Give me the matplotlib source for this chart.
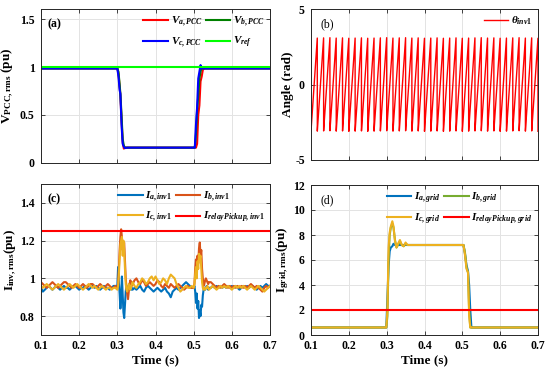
import numpy as np
import matplotlib
matplotlib.use("Agg")
import matplotlib.pyplot as plt
from matplotlib.ticker import FuncFormatter

plt.rcParams['font.family'] = ['Liberation Serif', 'DejaVu Serif']
plt.rcParams['font.weight'] = 'bold'
plt.rcParams['mathtext.fontset'] = 'custom'
plt.rcParams['mathtext.rm'] = 'Liberation Serif:bold'
plt.rcParams['mathtext.it'] = 'Liberation Serif:italic:bold'
plt.rcParams['mathtext.bf'] = 'Liberation Serif:bold'

# ---------------- (a) PCC voltages ----------------
t_a = [0.10, 0.300, 0.303, 0.306, 0.308, 0.311, 0.314, 0.317, 0.320, 0.325, 0.50,
       0.503, 0.506, 0.509, 0.512, 0.515, 0.518, 0.521, 0.524, 0.527, 0.53, 0.70]
v_a_pcc = [0.985, 0.985, 0.93, 0.80, 0.70, 0.45, 0.22, 0.15, 0.16, 0.16, 0.16,
           0.16, 0.16, 0.20, 0.50, 0.60, 0.85, 0.90, 0.97, 0.985, 0.985, 0.985]
v_b_pcc = [0.985, 0.985, 0.95, 0.82, 0.72, 0.50, 0.25, 0.18, 0.16, 0.16, 0.16,
           0.16, 0.30, 0.55, 0.70, 0.88, 0.95, 1.00, 0.985, 0.985, 0.985, 0.985]
v_c_pcc = [0.985, 0.985, 0.90, 0.76, 0.72, 0.40, 0.20, 0.17, 0.155, 0.16, 0.16,
           0.16, 0.40, 0.58, 0.88, 0.95, 1.02, 0.985, 0.985, 0.985, 0.985, 0.985]
v_ref = 1.0

# ---------------- (b) inverter angle ----------------
theta_peak = 3.1          # rad
grid_freq_hz = 60.0       # one tooth per grid cycle

# ---------------- (c) inverter currents ----------------
t_c = np.round(np.concatenate([
    np.arange(0.100, 0.2951, 0.005),
    np.arange(0.300, 0.3401, 0.002),
    np.arange(0.345, 0.4951, 0.005),
    np.arange(0.500, 0.5401, 0.002),
    np.arange(0.545, 0.7001, 0.005)]), 3)
i_a_inv = [
    0.95, 0.93, 0.94, 0.95, 0.96, 0.95, 0.94, 0.95, 0.96, 0.95,
    0.94, 0.95, 0.96, 0.95, 0.95, 0.94, 0.95, 0.96, 0.96, 0.95,
    0.94, 0.95, 0.95, 0.96, 0.95, 0.94, 0.95, 0.96, 0.95, 0.96,
    0.95, 0.94, 0.95, 0.96, 0.95, 0.95, 0.94, 0.95, 0.96, 0.96,
    0.96, 1.06, 0.98, 0.92, 0.84, 0.90, 1.01, 0.92, 0.82, 0.79,
    0.86, 0.93, 0.96, 0.95, 0.94, 0.96, 0.97, 0.95, 0.94, 0.95, 0.94,
    0.95, 0.94, 0.95, 0.96, 0.94, 0.93, 0.95, 0.96, 0.95, 0.94,
    0.93, 0.94, 0.95, 0.94, 0.93, 0.94, 0.95, 0.93, 0.92, 0.90,
    0.93, 0.94, 0.95, 0.94, 0.95, 0.96, 0.97, 0.98, 0.97, 0.96, 0.95,
    0.95, 0.96, 0.93, 0.87, 0.92, 0.84, 0.88, 0.79, 0.83, 0.80,
    0.86, 0.85, 0.91, 0.94, 0.95, 0.94, 0.95, 0.96, 0.95, 0.94, 0.95,
    0.95, 0.96, 0.95, 0.96, 0.95, 0.96, 0.95, 0.96, 0.95, 0.96,
    0.95, 0.96, 0.95, 0.96, 0.95, 0.94, 0.95, 0.96, 0.95, 0.96,
    0.95, 0.96, 0.96, 0.95, 0.94, 0.95, 0.96, 0.95, 0.96, 0.97, 0.96, 0.96]
i_b_inv = [
    0.98, 0.97, 0.96, 0.95, 0.96, 0.97, 0.98, 0.97, 0.96, 0.95,
    0.96, 0.97, 0.98, 0.98, 0.97, 0.96, 0.95, 0.96, 0.97, 0.96,
    0.95, 0.96, 0.97, 0.96, 0.95, 0.96, 0.97, 0.97, 0.96, 0.95,
    0.96, 0.97, 0.96, 0.95, 0.96, 0.97, 0.96, 0.95, 0.95, 0.96,
    0.95, 0.97, 1.05, 1.15, 1.22, 1.26, 1.22, 1.15, 1.18, 1.19,
    1.10, 1.00, 0.95, 0.92, 0.89, 0.93, 0.97, 0.99, 0.98, 0.96, 0.97,
    0.99, 1.00, 0.98, 0.97, 0.99, 0.98, 0.96, 0.97, 0.98, 0.97,
    0.96, 0.97, 0.99, 0.98, 0.96, 0.95, 0.97, 0.96, 0.95, 0.97,
    0.96, 0.95, 0.96, 0.97, 0.96, 0.95, 0.94, 0.95, 0.96, 0.95, 0.95,
    0.95, 0.97, 1.05, 1.10, 1.02, 1.12, 1.08, 1.16, 1.19, 1.12,
    1.15, 1.05, 1.00, 0.96, 0.97, 0.99, 1.00, 0.99, 0.98, 0.97, 0.98,
    0.98, 0.97, 0.96, 0.95, 0.96, 0.95, 0.96, 0.97, 0.96, 0.95,
    0.96, 0.95, 0.96, 0.95, 0.96, 0.95, 0.96, 0.95, 0.96, 0.95,
    0.96, 0.97, 0.96, 0.95, 0.96, 0.95, 0.94, 0.93, 0.95, 0.96, 0.95, 0.96]
i_c_inv = [
    0.96, 0.95, 0.96, 0.97, 0.96, 0.95, 0.94, 0.95, 0.96, 0.97,
    0.96, 0.95, 0.94, 0.95, 0.96, 0.97, 0.96, 0.95, 0.96, 0.97,
    0.96, 0.95, 0.94, 0.95, 0.96, 0.97, 0.96, 0.95, 0.96, 0.95,
    0.94, 0.95, 0.96, 0.95, 0.94, 0.95, 0.95, 0.94, 0.95, 0.95,
    0.94, 0.96, 1.02, 1.10, 1.18, 1.20, 1.22, 1.12, 1.20, 1.15,
    1.05, 0.97, 0.94, 0.93, 0.95, 0.97, 0.96, 0.94, 0.95, 0.97, 0.98,
    0.96, 0.95, 0.97, 0.98, 1.00, 0.99, 0.97, 0.98, 1.00, 1.01,
    0.99, 1.01, 0.99, 0.97, 0.98, 1.00, 0.99, 0.97, 1.00, 1.02,
    1.01, 1.00, 0.97, 0.95, 0.93, 0.94, 0.95, 0.96, 0.95, 0.95, 0.96,
    0.95, 0.97, 1.02, 1.06, 1.00, 1.09, 1.05, 1.13, 1.10, 1.12,
    1.05, 0.98, 0.95, 0.94, 0.95, 0.94, 0.95, 0.95, 0.96, 0.95, 0.94,
    0.95, 0.96, 0.95, 0.94, 0.95, 0.96, 0.95, 0.96, 0.95, 0.96,
    0.95, 0.94, 0.95, 0.96, 0.95, 0.96, 0.95, 0.96, 0.95, 0.94,
    0.95, 0.96, 0.95, 0.94, 0.95, 0.96, 0.95, 0.94, 0.93, 0.94, 0.95, 0.96]
i_relay_inv = 1.25

# ---------------- (d) grid currents ----------------
t_d = [0.10, 0.299, 0.302, 0.305, 0.308, 0.311, 0.315, 0.318, 0.322, 0.326, 0.330,
       0.335, 0.340, 0.345, 0.350, 0.355, 0.36, 0.50, 0.503, 0.507, 0.511, 0.515,
       0.518, 0.521, 0.524, 0.527, 0.70]
i_a_grid = [0.6, 0.6, 3.0, 5.5, 6.7, 7.0, 7.1, 7.3, 7.2, 7.2, 7.2, 7.2, 7.2, 7.2,
            7.2, 7.2, 7.2, 7.2, 7.2, 6.5, 5.6, 5.1, 4.0, 2.0, 0.6, 0.6, 0.6]
i_b_grid = [0.6, 0.6, 1.5, 6.0, 8.0, 8.6, 8.9, 8.6, 7.6, 7.0, 7.2, 7.5, 7.2, 7.1,
            7.3, 7.2, 7.2, 7.2, 7.2, 6.6, 5.4, 5.0, 2.0, 0.6, 0.6, 0.6, 0.6]
i_c_grid = [0.6, 0.6, 2.0, 7.0, 8.2, 8.7, 9.1, 8.7, 7.5, 7.0, 7.3, 7.6, 7.2, 7.1,
            7.4, 7.2, 7.2, 7.2, 7.2, 6.4, 5.3, 5.0, 1.5, 0.6, 0.6, 0.6, 0.6]
i_relay_grid = 2.0

x_ticks = [0.1, 0.2, 0.3, 0.4, 0.5, 0.6, 0.7]

# ---------------- figure ----------------
W, H = 550, 370
fig = plt.figure(figsize=(W / 100, H / 100), dpi=100)


def px_axes(l, t, r, b):
    return fig.add_axes([l / W, 1 - b / H, (r - l) / W, (b - t) / H])


fmt = FuncFormatter(lambda v, p: f'{v:g}')


def style(ax, ylim, yticks, xlabels):
    ax.set_xlim(0.1, 0.7)
    ax.set_ylim(*ylim)
    ax.set_xticks(x_ticks)
    ax.set_yticks(yticks)
    ax.yaxis.set_major_formatter(fmt)
    ax.xaxis.set_major_formatter(fmt)
    if not xlabels:
        ax.set_xticklabels([])
    ax.grid(True, color='#e3e3e3', linewidth=0.7)
    ax.set_axisbelow(True)
    ax.tick_params(direction='in', length=3, width=0.6, top=True, right=True,
                   labelsize=8.5, colors='#262626')
    ax.tick_params(axis='x', pad=3.5)
    ax.tick_params(axis='y', pad=4.5)
    for lab in ax.get_xticklabels() + ax.get_yticklabels():
        lab.set_fontweight('bold')
        lab.set_color('black')
    for s in ax.spines.values():
        s.set_color('#262626')
        s.set_linewidth(0.7)


leg_kw = dict(frameon=False, fontsize=8, handlelength=2.2, handletextpad=0.25,
              columnspacing=0.3, labelspacing=0.55, borderaxespad=0.3,
              borderpad=0.2)


def legend4(ax):
    h, l = ax.get_legend_handles_labels()
    ax.legend([h[0], h[2], h[1], h[3]], [l[0], l[2], l[1], l[3]], ncol=2,
              loc='upper right', bbox_to_anchor=(1.0, 1.0), **leg_kw)


# (a)
ax = px_axes(41, 9.4, 270, 163)
ax.plot(t_a, v_a_pcc, color='#ff0000', lw=1.5, label=r'$V_{a,PCC}$')
ax.plot(t_a, v_b_pcc, color='#008000', lw=1.5, label=r'$V_{b,PCC}$')
ax.plot(t_a, v_c_pcc, color='#0000ff', lw=1.5, label=r'$V_{c,PCC}$')
ax.axhline(v_ref, color='#00ff00', lw=1.5, label=r'$V_{ref}$')
style(ax, (0, 1.6), [0, 0.5, 1, 1.5], False)
legend4(ax)
ax.text(0.03, 0.94, '(a)', transform=ax.transAxes, fontsize=8.5,
        fontweight='bold', va='top')
ax.set_ylabel(r'$\mathrm{V}_{\mathrm{PCC,rms}}$ (pu)', fontsize=9.5,
              fontweight='bold', labelpad=3)

# (b)
ax = px_axes(311, 9, 538, 160)
t_b = np.linspace(0.1, 0.7, 6001)
theta = ((t_b - 0.1) * grid_freq_hz % 1.0) * 2 * theta_peak - theta_peak
ax.plot(t_b, theta, color='#ff0000', lw=1.0, label=r'$\theta_{inv1}$')
style(ax, (-5, 5), [-5, 0, 5], False)
ax.legend(loc='upper right', **leg_kw)
ax.text(0.04, 0.94, '(b)', transform=ax.transAxes, fontsize=8.5,
        fontweight='normal', va='top')
ax.set_ylabel('Angle (rad)', fontsize=9.5, fontweight='bold', labelpad=1)

# (c)
ax = px_axes(41, 184, 270, 335)
ax.plot(t_c, i_a_inv, color='#0072BD', lw=1.5, label=r'$I_{a,inv1}$')
ax.plot(t_c, i_b_inv, color='#D95319', lw=1.5, label=r'$I_{b,inv1}$')
ax.plot(t_c, i_c_inv, color='#EDB120', lw=1.5, label=r'$I_{c,inv1}$')
ax.axhline(i_relay_inv, color='#ff0000', lw=1.5, label=r'$I_{relayPickup,inv1}$')
style(ax, (0.7, 1.5), [0.8, 1, 1.2, 1.4], True)
legend4(ax)
ax.text(0.03, 0.94, '(c)', transform=ax.transAxes, fontsize=8.5,
        fontweight='bold', va='top')
ax.set_ylabel(r'$\mathrm{I}_{\mathrm{inv,rms}}$(pu)', fontsize=9.5,
              fontweight='bold', labelpad=1)
ax.set_xlabel('Time (s)', fontsize=9.5, fontweight='bold', labelpad=2)

# (d)
ax = px_axes(311, 185, 538, 335)
ax.plot(t_d, i_a_grid, color='#0072BD', lw=1.5, label=r'$I_{a,grid}$')
ax.plot(t_d, i_b_grid, color='#77AC30', lw=1.5, label=r'$I_{b,grid}$')
ax.plot(t_d, i_c_grid, color='#EDB120', lw=1.5, label=r'$I_{c,grid}$')
ax.axhline(i_relay_grid, color='#ff0000', lw=1.5, label=r'$I_{relayPickup,grid}$')
style(ax, (0, 12), [0, 2, 4, 6, 8, 10, 12], True)
legend4(ax)
ax.text(0.04, 0.94, '(d)', transform=ax.transAxes, fontsize=8.5,
        fontweight='normal', va='top')
ax.set_ylabel(r'$\mathrm{I}_{\mathrm{grid,rms}}$(pu)', fontsize=9.5,
              fontweight='bold', labelpad=1)
ax.set_xlabel('Time (s)', fontsize=9.5, fontweight='bold', labelpad=2)

fig.savefig('out.png', dpi=100)
